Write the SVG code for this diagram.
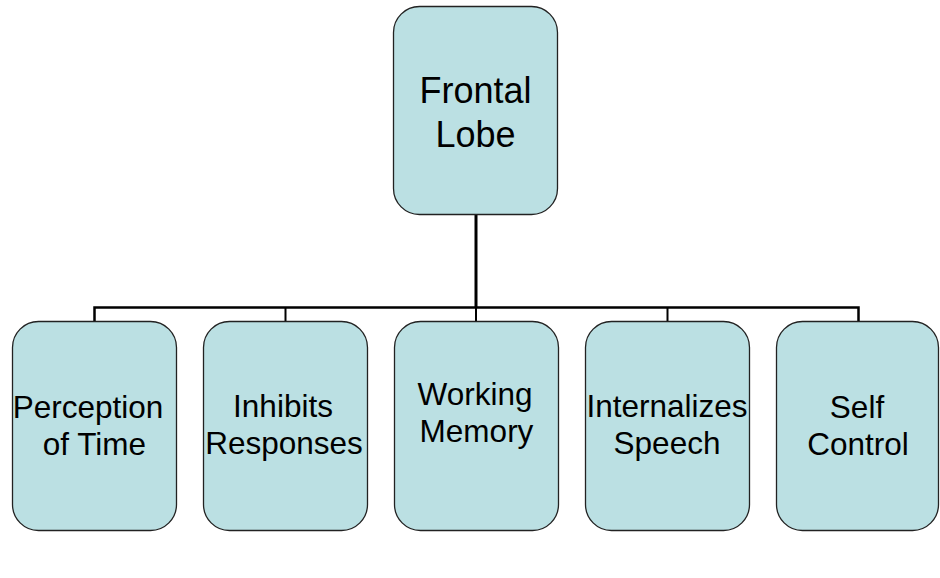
<svg xmlns="http://www.w3.org/2000/svg" width="940" height="578" viewBox="0 0 940 578">
<style>
.box{fill:#BBE0E3;stroke:#222;stroke-width:1.3}
.t{font-family:"Liberation Sans",Arial,sans-serif;fill:#000;text-anchor:middle}
.c{font-size:31.5px}
.top{font-size:36px}
.ln{stroke:#000;fill:none}
</style>
<rect width="940" height="578" fill="#fff"/>
<g id="connectors">
<line class="ln" x1="476" y1="215" x2="476" y2="308" stroke-width="3"/>
<polyline class="ln" points="94.5,321 94.5,307.5 858.5,307.5 858.5,321" stroke-width="2.5"/>
<line class="ln" x1="285.5" y1="307.5" x2="285.5" y2="321" stroke-width="2"/>
<line class="ln" x1="476" y1="307.5" x2="476" y2="321" stroke-width="2"/>
<line class="ln" x1="667.5" y1="307.5" x2="667.5" y2="321" stroke-width="2"/>
</g>
<g id="frontal-lobe">
<rect class="box" x="393.5" y="6.5" width="164" height="208" rx="26"/>
<text class="t top" x="475.5" y="103">Frontal</text>
<text class="t top" x="475.5" y="147">Lobe</text>
</g>
<g id="perception-of-time">
<rect class="box" x="12.5" y="321.5" width="164" height="209" rx="26"/>
<text class="t c" x="88" y="418">Perception</text>
<text class="t c" x="94.5" y="455">of Time</text>
</g>
<g id="inhibits-responses">
<rect class="box" x="203.5" y="321.5" width="164" height="209" rx="26"/>
<text class="t c" x="283" y="417">Inhibits</text>
<text class="t c" x="284" y="454">Responses</text>
</g>
<g id="working-memory">
<rect class="box" x="394.5" y="321.5" width="164" height="209" rx="26"/>
<text class="t c" x="475" y="405">Working</text>
<text class="t c" x="476.5" y="442">Memory</text>
</g>
<g id="internalizes-speech">
<rect class="box" x="585.5" y="321.5" width="164" height="209" rx="26"/>
<text class="t c" x="667" y="417">Internalizes</text>
<text class="t c" x="667" y="454">Speech</text>
</g>
<g id="self-control">
<rect class="box" x="776.5" y="321.5" width="162" height="209" rx="26"/>
<text class="t c" x="857" y="418">Self</text>
<text class="t c" x="858" y="455">Control</text>
</g>
</svg>
